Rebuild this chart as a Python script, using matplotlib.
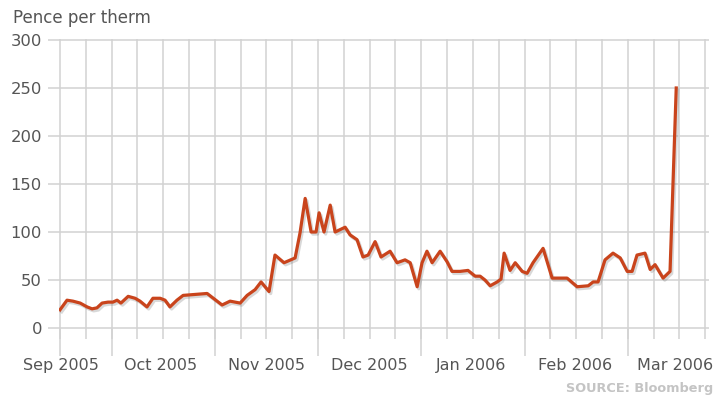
import numpy as np
import matplotlib
matplotlib.use("Agg")
import matplotlib.pyplot as plt
import matplotlib.patheffects as pe

# position on the time axis, in weeks from the first reading
weeks = [0.00, 0.27, 0.50, 0.78, 1.05, 1.24, 1.43, 1.63, 1.86, 2.05,
         2.21, 2.36, 2.64, 2.91, 3.10, 3.37, 3.60, 3.88, 4.07, 4.26,
         4.53, 4.77, 5.70, 6.28, 6.59, 6.98, 7.25, 7.56, 7.79, 8.10,
         8.33, 8.68, 9.11, 9.30, 9.50, 9.73, 9.92, 10.04, 10.23, 10.47,
         10.66, 11.05, 11.24, 11.51, 11.74, 11.94, 12.21, 12.44, 12.79, 13.06,
         13.37, 13.57, 13.84, 14.03, 14.22, 14.42, 14.73, 15.00, 15.19, 15.50,
         15.81, 16.09, 16.28, 16.47, 16.67, 16.94, 17.09, 17.21, 17.44, 17.64,
         17.91, 18.10, 18.33, 18.72, 19.07, 19.65, 20.04, 20.47, 20.66, 20.85,
         21.12, 21.43, 21.71, 21.98, 22.17, 22.36, 22.67, 22.87, 23.06, 23.37,
         23.64, 23.88]
# gas price, pence per therm
price = [19, 29, 28, 26, 22, 20, 21, 26, 27, 27,
         29, 26, 33, 31, 28, 22, 31, 31, 29, 22,
         29, 34, 36, 24, 28, 26, 34, 40, 48, 38,
         76, 68, 73, 99, 135, 100, 100, 120, 100, 128,
         100, 105, 97, 92, 74, 76, 90, 74, 80, 68,
         71, 68, 43, 68, 80, 68, 80, 69, 59, 59,
         60, 54, 54, 50, 44, 48, 51, 78, 60, 68,
         59, 57, 68, 83, 52, 52, 43, 44, 48, 48,
         71, 78, 73, 59, 59, 76, 78, 61, 66, 52,
         59, 250]

month_labels = ["Sep 2005", "Oct 2005", "Nov 2005", "Dec 2005",
                "Jan 2006", "Feb 2006", "Mar 2006"]
label_pos = [0.02, 3.9, 8.0, 12.0, 15.92, 19.97, 23.85]
month_bounds = [0, 2, 6, 10, 14, 18, 22]
y_ticks = [0, 50, 100, 150, 200, 250, 300]

GRID = "#d2d2d2"
TEXT = "#555555"
LINE = "#c9441c"

fig = plt.figure(figsize=(7.16, 3.96), dpi=100)
ax = fig.add_axes([59 / 716, 67 / 396, 650 / 716, 290 / 396])

ax.plot(weeks, price, color=LINE, lw=2.3, solid_joinstyle="round",
        zorder=3,
        path_effects=[pe.SimpleLineShadow(offset=(1.2, -1.5), alpha=0.25,
                                          shadow_color="#666666"),
                      pe.Normal()])

ax.set_xlim(-0.04, 25.15)
ax.set_ylim(-1.0, 301.0)
for s in ax.spines.values():
    s.set_visible(False)

ax.set_yticks(y_ticks)
ax.set_yticklabels([str(v) for v in y_ticks])
ax.tick_params(axis="y", length=8, width=1.1, color=GRID, pad=4.3,
               labelsize=11.8, labelcolor=TEXT)

ax.set_xticks(label_pos)
ax.set_xticklabels(month_labels)
ax.set_xticks(np.arange(0, 26), minor=True)
ax.xaxis.remove_overlapping_locs = False
ax.tick_params(axis="x", which="major", length=0, pad=21, labelsize=11.5,
               labelcolor=TEXT)
ax.tick_params(axis="x", which="minor", length=7.2, width=1.1, color=GRID)

ax.grid(True, which="minor", axis="x", color=GRID, lw=1.1)
ax.grid(True, which="major", axis="y", color=GRID, lw=1.1)
ax.set_axisbelow(True)

sec = ax.secondary_xaxis("bottom")
sec.set_xticks(month_bounds)
sec.set_xticklabels([""] * len(month_bounds))
sec.tick_params(length=19.4, width=1.1, color=GRID)
for s in sec.spines.values():
    s.set_visible(False)

fig.text(13 / 716, 1 - 23 / 396, "Pence per therm", fontsize=12,
         color=TEXT, va="baseline", ha="left")
fig.text(713 / 716, 1 - 392 / 396, "SOURCE: Bloomberg", fontsize=9.3,
         color="#c4c4c4", fontweight="bold", va="baseline", ha="right")

fig.savefig("out.png", dpi=100)
